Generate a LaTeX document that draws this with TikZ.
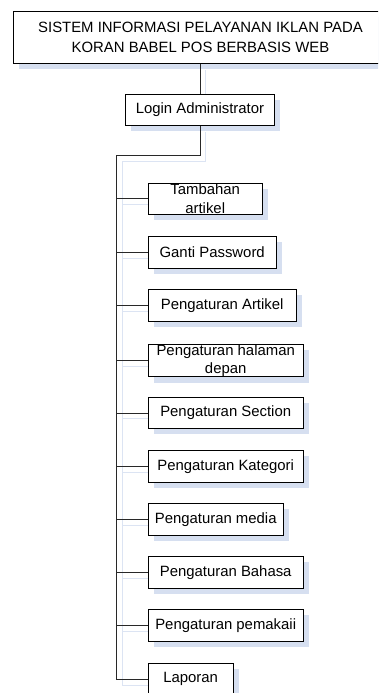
\documentclass[tikz,border=0pt]{standalone}
\usepackage{fontspec}
\setmainfont{Liberation Sans}
\usetikzlibrary{shadows}
\definecolor{shadowblue}{RGB}{214,223,240}
\definecolor{wireshadow}{RGB}{220,228,243}
\definecolor{wirecol}{RGB}{40,40,40}
\pgfdeclarelayer{background}
\pgfsetlayers{background,main}
\tikzset{
  box/.style={draw=black, line width=0.9pt, fill=white, inner sep=0pt,
    align=center, anchor=north west,
    font=\fontsize{14.9}{18.5}\selectfont,
    general shadow={fill=shadowblue, shadow xshift=6pt, shadow yshift=-6pt}},
  wire/.style={draw=wirecol, line width=0.9pt},
  wireshade/.style={draw=wireshadow, line width=1pt},
}
\begin{document}
\begin{tikzpicture}[x=1pt, y=-1pt]
  \useasboundingbox (0,0) rectangle (378,693);
  \clip (0,0) rectangle (378,693);

  % title and login
  \node[box, minimum width=374pt, minimum height=52pt,
        font=\fontsize{14.9}{20}\selectfont] (sys) at (13,11)
    {SISTEM INFORMASI PELAYANAN IKLAN PADA\\KORAN BABEL POS BERBASIS WEB};
  \node[box, minimum width=149pt, minimum height=31pt] (login) at (125,94)
    {Login Administrator};

  % menu entries
  \node[box, minimum width=114.5pt, minimum height=31.5pt] (tambahan) at (147.5,182.5) {Tambahan\\artikel};
  \node[box, minimum width=128.5pt, minimum height=31.5pt] (ganti) at (147.5,236) {Ganti Password};
  \node[box, minimum width=148.5pt, minimum height=32pt] (artikel) at (147.5,289) {Pengaturan Artikel};
  \node[box, minimum width=155.5pt, minimum height=31.5pt] (halaman) at (147.5,344) {Pengaturan halaman\\depan};
  \node[box, minimum width=155.5pt, minimum height=31pt] (section) at (147.5,397) {Pengaturan Section};
  \node[box, minimum width=155.5pt, minimum height=32pt] (kategori) at (147.5,450) {Pengaturan Kategori};
  \node[box, minimum width=135.5pt, minimum height=32pt] (media) at (147.5,503) {Pengaturan media};
  \node[box, minimum width=155.5pt, minimum height=31.5pt] (bahasa) at (147.5,556) {Pengaturan Bahasa};
  \node[box, minimum width=155.5pt, minimum height=32pt] (pemakai) at (147.5,609) {Pengaturan pemakaii};
  \node[box, minimum width=85.5pt, minimum height=31.5pt] (laporan) at (147.5,663) {Laporan};

  \coordinate (elbow) at (116.7,155);

  % connector shadows
  \begin{pgfonlayer}{background}
    \begin{scope}[transform canvas={shift={(6,6)}}]
      \draw[wireshade] (login.north |- sys.south) -- (login.north);
      \draw[wireshade] (login.south) |- (elbow) |- (laporan.west);
      \foreach \n in {tambahan,ganti,artikel,halaman,section,kategori,media,bahasa,pemakai}
        \draw[wireshade] (elbow |- \n.west) -- (\n.west);
    \end{scope}
  \end{pgfonlayer}

  % connectors
  \draw[wire] (login.north |- sys.south) -- (login.north);
  \draw[wire] (login.south) |- (elbow) |- (laporan.west);
  \foreach \n in {tambahan,ganti,artikel,halaman,section,kategori,media,bahasa,pemakai}
    \draw[wire] (elbow |- \n.west) -- (\n.west);
\end{tikzpicture}
\end{document}
